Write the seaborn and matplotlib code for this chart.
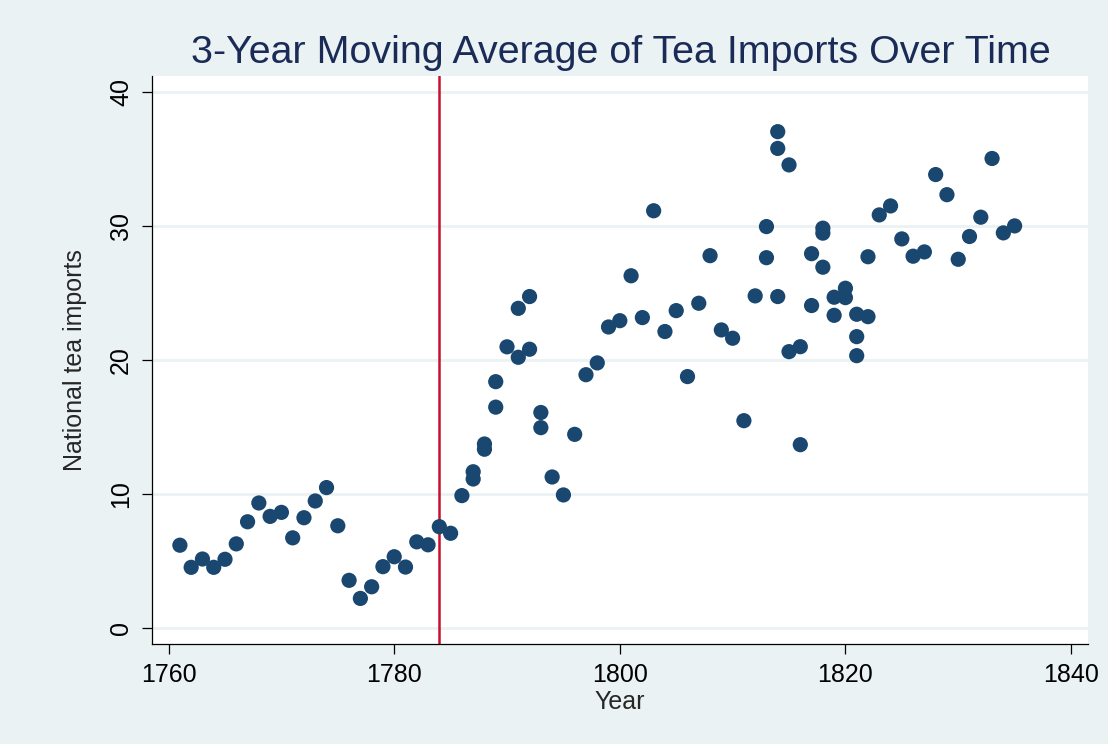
import matplotlib
matplotlib.use("Agg")
import matplotlib.pyplot as plt
import seaborn as sns
import pandas as pd

# 3-year moving average of national tea imports
years = [1761, 1762, 1763, 1764, 1765, 1766, 1767, 1768, 1769, 1770,
         1771, 1772, 1773, 1774, 1775, 1776, 1777, 1778, 1779, 1780,
         1781, 1782, 1783, 1784, 1785, 1786, 1787, 1787, 1788, 1788,
         1789, 1789, 1790, 1791, 1791, 1792, 1792, 1793, 1793, 1794,
         1795, 1796, 1797, 1798, 1799, 1800, 1801, 1802, 1803, 1804,
         1805, 1806, 1807, 1808, 1809, 1810, 1811, 1812, 1813, 1813,
         1814, 1814, 1814, 1815, 1815, 1816, 1816, 1817, 1817, 1818,
         1818, 1818, 1819, 1819, 1820, 1820, 1821, 1821, 1821, 1822,
         1822, 1823, 1824, 1825, 1826, 1827, 1828, 1829, 1830, 1831,
         1832, 1833, 1834, 1835]
imports = [6.2, 4.55, 5.17, 4.55, 5.15, 6.3, 7.95, 9.35, 8.35, 8.65,
           6.75, 8.25, 9.5, 10.5, 7.65, 3.58, 2.23, 3.1, 4.6, 5.34,
           4.57, 6.45, 6.23, 7.58, 7.09, 9.9, 11.68, 11.14, 13.75, 13.36,
           18.4, 16.5, 21.0, 23.87, 20.22, 24.75, 20.82, 16.1, 14.97, 11.29,
           9.95, 14.47, 18.92, 19.8, 22.48, 22.95, 26.3, 23.18, 31.15, 22.14,
           23.7, 18.78, 24.25, 27.8, 22.26, 21.64, 15.49, 24.8, 29.97, 27.65,
           37.05, 35.8, 24.75, 34.57, 20.64, 21.01, 13.7, 27.95, 24.08, 29.85,
           29.48, 26.94, 24.7, 23.35, 25.37, 24.67, 23.43, 21.76, 20.34, 27.72,
           23.25, 30.84, 31.51, 29.05, 27.76, 28.08, 33.85, 32.35, 27.53, 29.23,
           30.67, 35.05, 29.5, 30.02]

xticks = [1760, 1780, 1800, 1820, 1840]
yticks = [0, 10, 20, 30, 40]
cutoff_year = 1784

df = pd.DataFrame({"Year": years, "Imports": imports})

sns.set_style("white")
plt.rcParams["font.family"] = ["Liberation Sans", "DejaVu Sans"]

bg = "#EAF2F3"
fig = plt.figure(figsize=(11.08, 7.44), dpi=100, facecolor=bg)
ax = fig.add_axes([0.1369, 0.1344, 0.9819 - 0.1369, 0.8978 - 0.1344])
ax.set_facecolor("white")

for y in yticks:
    ax.axhline(y, color=bg, lw=2, zorder=0)

sns.scatterplot(data=df, x="Year", y="Imports", ax=ax, s=120,
                color="#1A476F", edgecolor="none", zorder=3, legend=False)
ax.axvline(cutoff_year, color="#C8102E", lw=1.8, zorder=2)

ax.set_xlim(1758.5, 1841.5)
ax.set_ylim(-1.17, 41.2)
ax.set_xticks(xticks)
ax.set_yticks(yticks)
ax.grid(False)

for side in ["top", "right"]:
    ax.spines[side].set_visible(False)
for side in ["left", "bottom"]:
    ax.spines[side].set_color("black")
    ax.spines[side].set_linewidth(0.9)

ax.tick_params(axis="both", which="major", direction="out", length=7.5,
               width=0.9, color="black", labelsize=18, labelcolor="black",
               bottom=True, left=True)
ax.tick_params(axis="x", pad=6)
ax.tick_params(axis="y", pad=6)
for lab in ax.get_yticklabels():
    lab.set_rotation(90)
    lab.set_va("center")

ax.set_xlabel("Year", fontsize=18, labelpad=2)
ax.set_ylabel("National tea imports", fontsize=18, labelpad=16)

fig.text(0.5605, 1 - 63 / 744, "3-Year Moving Average of Tea Imports Over Time",
         ha="center", va="baseline", fontsize=28.4, color="#1A2B57")

fig.savefig("out.png", dpi=100, facecolor=bg)
